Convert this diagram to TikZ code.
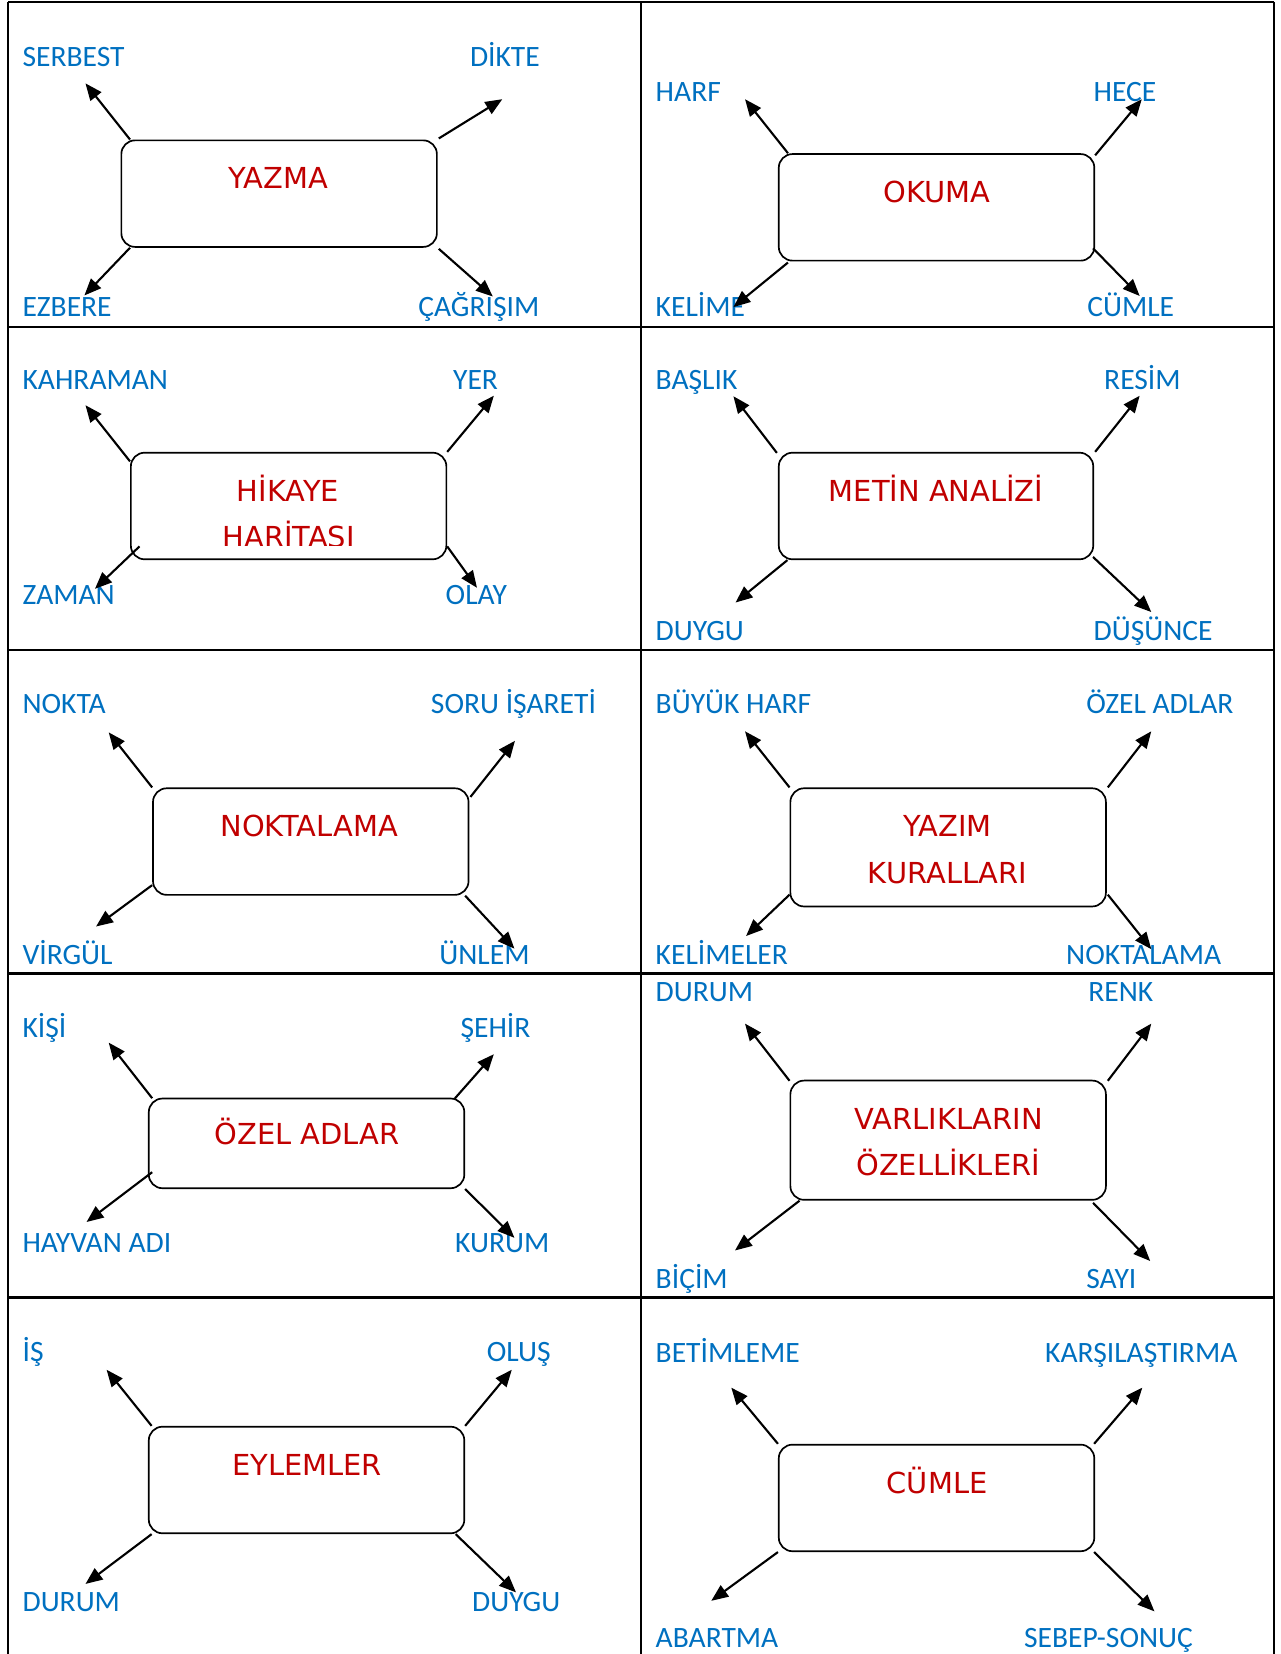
\documentclass[tikz,border=0pt]{standalone}
\usepackage{fontspec}
\newfontfamily\carl{Carlito}
\newfontfamily\comicf{DejaVu Sans}
\usetikzlibrary{arrows.meta}
\definecolor{lblue}{HTML}{0070C0}
\definecolor{lred}{HTML}{C00000}
\tikzset{
  gridline/.style={line width=1pt, black},
  topicbox/.style={draw, rounded corners=6.5pt, line width=0.8pt, minimum width=149.5pt, inner sep=0pt},
  arr/.style={line width=1pt, -{Triangle[length=8pt,width=6.5pt]}},
  bl/.style={text=lblue, font=\carl\fontsize{14pt}{16pt}\selectfont, anchor=base west, inner sep=0pt},
  rd/.style={text=lred, font=\comicf\fontsize{13.7pt}{16pt}\selectfont, anchor=base, inner sep=0pt}
}
\begin{document}
\begin{tikzpicture}[x=0.5pt,y=-0.5pt]
\useasboundingbox (0,0) rectangle (1213,1567.4);
% grid
\draw[gridline] (8,2) -- (1207,2);
\draw[gridline] (8,309.5) -- (1207,309.5);
\draw[gridline] (8,616) -- (1207,616);
\draw[gridline] (8,922.5) -- (1207,922.5);
\draw[gridline] (8,1229.5) -- (1207,1229.5);
\draw[gridline] (8,1.5) -- (8,1570);
\draw[gridline] (607.5,1.5) -- (607.5,1570);
\draw[gridline] (1207,1.5) -- (1207,1570);

% boxes
\node[topicbox, minimum height=50.5pt] (B1) at (264.5,183.5) {};
\node[topicbox, minimum height=50.5pt] (B2) at (887.5,196.5) {};
\node[topicbox, minimum height=50.5pt] (B3) at (273.5,479.5) {};
\node[topicbox, minimum height=50.5pt, minimum width=149pt] (B4) at (887,479.5) {};
\node[topicbox, minimum height=50.5pt] (B5) at (294.5,797.5) {};
\node[topicbox, minimum height=56pt] (B6) at (898.5,803) {};
\node[topicbox, minimum height=42.5pt] (B7) at (290.5,1083.5) {};
\node[topicbox, minimum height=56.5pt] (B8) at (898.5,1080.5) {};
\node[topicbox, minimum height=50.5pt] (B9) at (290.5,1402.5) {};
\node[topicbox, minimum height=50.5pt] (B10) at (887.5,1419.5) {};

% red titles
\node[rd] (T1) at (263.5,179) {YAZMA};
\node[rd] (T2) at (888,192) {OKUMA};
\node[rd] (T3a) at (273,475) {HİKAYE};
\begin{scope}
\clip (110,490) rectangle (440,517);
\node[rd] (T3b) at (273.5,519) {HARİTASI};
\end{scope}
\node[rd] (T4) at (887,475) {METİN ANALİZİ};
\node[rd] (T5) at (293,793) {NOKTALAMA};
\node[rd] (T6a) at (898,793) {YAZIM};
\node[rd] (T6b) at (898,837) {KURALLARI};
\node[rd] (T7) at (291,1085) {ÖZEL ADLAR};
\node[rd] (T8a) at (899,1070) {VARLIKLARIN};
\node[rd] (T8b) at (898.5,1114) {ÖZELLİKLERİ};
\node[rd] (T9) at (291,1398) {EYLEMLER};
\node[rd] (T10) at (888,1415) {CÜMLE};

% blue labels
\node[bl] (L1a) at (21,63) {SERBEST};
\node[bl] (L1b) at (445,63) {DİKTE};
\node[bl] (L1c) at (21,300) {EZBERE};
\node[bl] (L1d) at (396,300) {ÇAĞRIŞIM};
\node[bl] (L2a) at (621,96) {HARF};
\node[bl] (L2b) at (1036,96) {HECE};
\node[bl] (L2c) at (621,300) {KELİME};
\node[bl] (L2d) at (1030,300) {CÜMLE};
\node[bl] (L3a) at (21,369) {KAHRAMAN};
\node[bl] (L3b) at (429,369) {YER};
\node[bl] (L3c) at (21,573) {ZAMAN};
\node[bl] (L3d) at (422,573) {OLAY};
\node[bl] (L4a) at (621,369) {BAŞLIK};
\node[bl] (L4b) at (1046,369) {RESİM};
\node[bl] (L4c) at (621,607) {DUYGU};
\node[bl] (L4d) at (1036,607) {DÜŞÜNCE};
\node[bl] (L5a) at (21,676) {NOKTA};
\node[bl] (L5b) at (408,676) {SORU İŞARETİ};
\node[bl] (L5c) at (21,914) {VİRGÜL};
\node[bl] (L5d) at (416,914) {ÜNLEM};
\node[bl] (L6a) at (621,676) {BÜYÜK HARF};
\node[bl] (L6b) at (1029,676) {ÖZEL ADLAR};
\node[bl] (L6c) at (621,914) {KELİMELER};
\node[bl] (L6d) at (1010,914) {NOKTALAMA};
\node[bl] (L7a) at (21,983) {KİŞİ};
\node[bl] (L7b) at (436,983) {ŞEHİR};
\node[bl] (L7c) at (21,1187) {HAYVAN ADI};
\node[bl] (L7d) at (431,1187) {KURUM};
\node[bl] (L8a) at (621,949) {DURUM};
\node[bl] (L8b) at (1031,949) {RENK};
\node[bl] (L8c) at (621,1221) {BİÇİM};
\node[bl] (L8d) at (1029,1221) {SAYI};
\node[bl] (L9a) at (21,1290) {İŞ};
\node[bl] (L9b) at (461,1290) {OLUŞ};
\node[bl] (L9c) at (21,1527) {DURUM};
\node[bl] (L9d) at (447,1527) {DUYGU};
\node[bl] (L10a) at (621,1291) {BETİMLEME};
\node[bl] (L10b) at (990,1291) {KARŞILAŞTIRMA};
\node[bl] (L10c) at (621,1561) {ABARTMA};
\node[bl] (L10d) at (970,1561) {SEBEP-SONUÇ};

% arrow tips
\coordinate (P1a) at (81,79);   \coordinate (P1b) at (476,94);
\coordinate (P1c) at (80,280);  \coordinate (P1d) at (467,281);
\coordinate (P2a) at (706,94);  \coordinate (P2b) at (1082,94);
\coordinate (P2c) at (695,291); \coordinate (P2d) at (1080,280.5);
\coordinate (P3a) at (81,384);  \coordinate (P3b) at (468,375);
\coordinate (P3c) at (90,558);  \coordinate (P3d) at (452,557);
\coordinate (P4a) at (695,375.5); \coordinate (P4b) at (1080,375);
\coordinate (P4c) at (697,571); \coordinate (P4d) at (1091,580);
\coordinate (P5a) at (103,694); \coordinate (P5b) at (488,702);
\coordinate (P5c) at (91,878);  \coordinate (P5d) at (487.5,899);
\coordinate (P6a) at (706,693); \coordinate (P6b) at (1091,693);
\coordinate (P6c) at (707,887); \coordinate (P6d) at (1091,899.5);
\coordinate (P7a) at (103,988); \coordinate (P7b) at (468,999);
\coordinate (P7c) at (82,1158); \coordinate (P7d) at (487.5,1173);
\coordinate (P8a) at (706,970); \coordinate (P8b) at (1091,970);
\coordinate (P8c) at (696.5,1185); \coordinate (P8d) at (1090,1195);
\coordinate (P9a) at (101,1298); \coordinate (P9b) at (485,1298);
\coordinate (P9c) at (81,1501); \coordinate (P9d) at (489,1509);
\coordinate (P10a) at (693,1315); \coordinate (P10b) at (1082.5,1315);
\coordinate (P10c) at (674,1517); \coordinate (P10d) at (1094,1527);

% arrows
\draw[arr] ([shift={(9,0)}]B1.north west) -- (P1a);
\draw[arr] ([shift={(1,-1)}]B1.north east) -- (P1b);
\draw[arr] ([shift={(9,0)}]B1.south west) -- (P1c);
\draw[arr] ([shift={(1,1)}]B1.south east) -- (P1d);

\draw[arr] ([shift={(9.5,0)}]B2.north west) -- (P2a);
\draw[arr] ([shift={(0,2)}]B2.north east) -- (P2b);
\draw[arr] ([shift={(9.5,1)}]B2.south west) -- (P2c);
\draw[arr] ([shift={(-2,-12.5)}]B2.south east) -- (P2d);

\draw[arr] ([shift={(0,9)}]B3.north west) -- (P3a);
\draw[arr] (B3.north east) -- (P3b);
\draw[arr] ([shift={(9,-13)}]B3.south west) -- (P3c);
\draw[arr] ([shift={(0,-13)}]B3.south east) -- (P3d);

\draw[arr] ([shift={(-1,1)}]B4.north west) -- (P4a);
\draw[arr] ([shift={(1,0)}]B4.north east) -- (P4b);
\draw[arr] ([shift={(9,0)}]B4.south west) -- (P4c);
\draw[arr] ([shift={(-1,-3)}]B4.south east) -- (P4d);

\draw[arr] (B5.north west) -- (P5a);
\draw[arr] ([shift={(1,9)}]B5.north east) -- (P5b);
\draw[arr] ([shift={(0,-10)}]B5.south west) -- (P5c);
\draw[arr] ([shift={(-4,0)}]B5.south east) -- (P5d);

\draw[arr] (B6.north west) -- (P6a);
\draw[arr] ([shift={(1,0)}]B6.north east) -- (P6b);
\draw[arr] ([shift={(0,-12)}]B6.south west) -- (P6c);
\draw[arr] ([shift={(1,-12)}]B6.south east) -- (P6d);

\draw[arr] ([shift={(4,0.5)}]B7.north west) -- (P7a);
\draw[arr] ([shift={(-10,1)}]B7.north east) -- (P7b);
\draw[arr] ([shift={(4,-16)}]B7.south west) -- (P7c);
\draw[arr] (B7.south east) -- (P7d);

\draw[arr] ([shift={(0,1)}]B8.north west) -- (P8a);
\draw[arr] ([shift={(1,1)}]B8.north east) -- (P8b);
\draw[arr] ([shift={(9.5,0)}]B8.south west) -- (P8c);
\draw[arr] ([shift={(-13,2)}]B8.south east) -- (P8d);

\draw[arr] ([shift={(3.5,0)}]B9.north west) -- (P9a);
\draw[arr] (B9.north east) -- (P9b);
\draw[arr] ([shift={(3.5,0)}]B9.south west) -- (P9c);
\draw[arr] ([shift={(-9,0)}]B9.south east) -- (P9d);

\draw[arr] (B10.north west) -- (P10a);
\draw[arr] ([shift={(-1,0)}]B10.north east) -- (P10b);
\draw[arr] (B10.south west) -- (P10c);
\draw[arr] ([shift={(-1,0)}]B10.south east) -- (P10d);
\end{tikzpicture}
\end{document}
